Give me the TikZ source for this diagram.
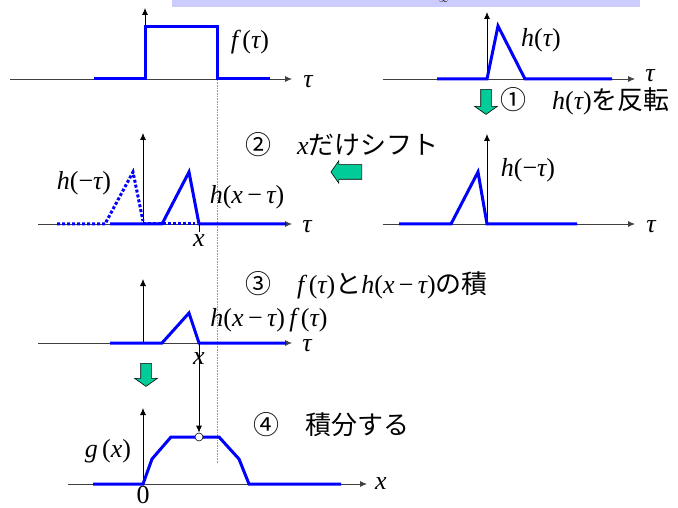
\documentclass[tikz,border=0pt]{standalone}
\usepackage{fontspec}
\usepackage{tikz}
\usetikzlibrary{positioning, arrows.meta, calc, shapes.arrows}
\setmainfont{Liberation Serif}
\newfontfamily\jpfont{Noto Sans CJK JP}
\definecolor{sigblue}{HTML}{0000FF}
\definecolor{stepgreen}{HTML}{00CC99}
\definecolor{bandblue}{HTML}{CCCCFF}
\definecolor{guidegray}{HTML}{9A9A9A}
\newcommand{\iv}[1]{{\rmfamily\itshape #1}}
\newcommand{\lblsize}{\rmfamily\fontsize{26}{29}\selectfont}

\tikzset{
  axisline/.style={-{Latex[length=7pt,width=6pt]}, line width=0.8pt},
  signal/.style={sigblue, line width=3pt},
  ghost/.style={sigblue, line width=3pt, dotted},
  lbl/.style={inner sep=0pt, font=\lblsize},
  steptext/.style={anchor=west, inner sep=0pt, font=\jpfont\fontsize{26}{30}\selectfont},
  blockarrow/.style={single arrow, draw=black, fill=stepgreen, line width=0.6pt,
    inner xsep=0pt, inner ysep=5pt, single arrow head extend=6pt,
    single arrow tip angle=110},
}

\begin{document}
\begin{tikzpicture}[x=1pt, y=-1pt]
  \useasboundingbox (0,0) rectangle (678,508);
  % band at the top
  \fill[bandblue] (172,0) rectangle (640,7.5);
  \node[font=\small] (infty) at (440,0) {$-\infty$};

  % dotted guide
  \draw[guidegray, densely dotted, line width=0.6pt] (217,80) -- (217,463);

  % f(tau)
  \draw[axisline, black!75] (10,79) -- (292,79);
  \draw[axisline] (145,80) -- (145,8);
  \draw[signal] (94,79) -- (145,79) -- (145,27) -- (217,27) -- (217,79) -- (270,79);
  \node[lbl] (ftau) at (250,42) {\iv{f}\,(\iv{τ})};
  \node[lbl] (tauA) at (308,82) {\iv{τ}};

  % h(tau)
  \draw[axisline, black!75] (383,79) -- (635,79);
  \draw[axisline] (487,80) -- (487,12);
  \draw[signal] (437,79) -- (487,79) -- (498,26) -- (525,79) -- (612,79);
  \node[lbl] (htau) at (541,40) {\iv{h}(\iv{τ})};
  \node[lbl] (tauB) at (650,76) {\iv{τ}};
  \node[blockarrow, rotate=-90, minimum height=25pt] (downA) at (486,100) {};
  \node[steptext] (stepA) at (500,101) {①\quad{\lblsize\iv{h}(\iv{τ})}を反転};

  % h(-tau)
  \draw[axisline, black!75] (383,224) -- (635,224);
  \draw[axisline] (487,225) -- (487,134);
  \draw[signal] (399,224) -- (451,224) -- (478,172) -- (487,224) -- (577,224);
  \node[lbl] (hminus) at (528,170) {\iv{h}(−\iv{τ})};
  \node[lbl] (tauC) at (651,227) {\iv{τ}};
  \node[blockarrow, minimum height=31pt, shape border rotate=180,
        inner ysep=7pt, single arrow head extend=4pt] (leftA) at (349,172) {};
  \node[steptext] (stepB) at (245,145) {②\quad{\lblsize\iv{x}}だけシフト};

  % h(x-tau)
  \draw[axisline, black!75] (38,224) -- (292,224);
  \draw[axisline] (143,225) -- (143,133);
  \draw[ghost] (57,224) -- (105,224) -- (133,172) -- (143,221);
  \draw[ghost] (143,224) -- (195,224);
  \draw[signal] (110,224) -- (162,224) -- (189,172) -- (199,224) -- (286,224);
  \draw[line width=0.8pt] (199,224) -- (199,232);
  \node[lbl] (hshift) at (247,197) {\iv{h}(\iv{x}\,−\,\iv{τ})};
  \node[lbl] (hflip) at (84,183) {\iv{h}(−\iv{τ})};
  \node[lbl] (xA) at (199,241) {\iv{x}};
  \node[lbl] (tauD) at (307,227) {\iv{τ}};

  % product
  \draw[axisline, black!75] (38,343) -- (292,343);
  \draw[axisline] (143,344) -- (143,279);
  \draw[signal] (110,343) -- (162,343) -- (189,313) -- (199,343) -- (286,343);
  \node[lbl] (prod) at (269,320) {\iv{h}(\iv{x}\,−\,\iv{τ})\,\iv{f}\,(\iv{τ})};
  \node[lbl] (xB) at (199,359) {\iv{x}};
  \node[lbl] (tauE) at (307,346) {\iv{τ}};
  \node[steptext] (stepC) at (245,285) {③\quad{\lblsize\iv{f}\,(\iv{τ})}と{\lblsize\iv{h}(\iv{x}\,−\,\iv{τ})}の積};
  \node[blockarrow, rotate=-90, minimum height=23pt] (downB) at (146,373) {};

  % g(x)
  \draw[axisline, black!75] (68,484) -- (367,484);
  \draw[axisline] (143,485) -- (143,408);
  \draw[signal] (93,484) -- (143,484) -- (152,459) -- (171,437) -- (219,437)
    -- (239,459) -- (249,484) -- (341,484);
  \node[circle, draw, fill=white, inner sep=0pt, minimum size=8pt, line width=0.6pt] (gdot) at (199,437) {};
  \draw[-{Latex[length=7pt,width=6pt]}, line width=0.8pt] (199,343) -- (gdot);
  \node[lbl] (gx) at (108,451) {\iv{g}\,(\iv{x})};
  \node[lbl] (zero) at (143,495) {0};
  \node[lbl] (xC) at (381,484) {\iv{x}};
  \node[steptext] (stepD) at (253,425) {④\quad 積分する};
\end{tikzpicture}
\end{document}
